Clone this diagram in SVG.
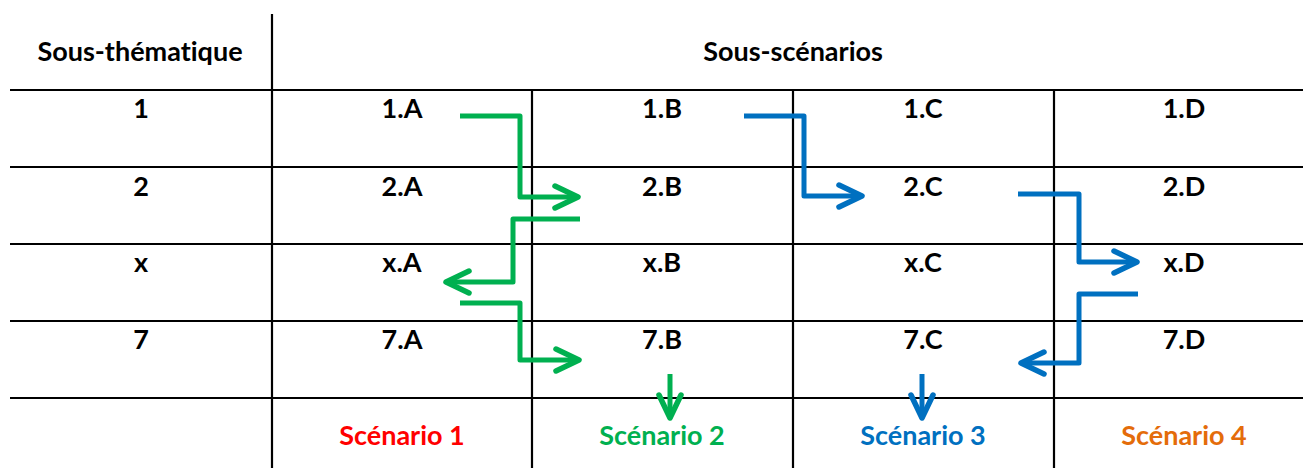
<svg xmlns="http://www.w3.org/2000/svg" width="1303" height="468" viewBox="0 0 1303 468">
<defs>
<style>
.grid line{stroke:#000;stroke-width:2.2}
text{font-family:Lato,"Open Sans","Liberation Sans",sans-serif;font-weight:bold;font-size:27px;text-anchor:middle;fill:#000;font-variant-ligatures:none;font-feature-settings:"liga" 0}
.g{stroke:#00B050;stroke-width:5;fill:none;stroke-linejoin:round}
.b{stroke:#0070C0;stroke-width:5;fill:none;stroke-linejoin:round}
</style>
<marker id="ag" markerUnits="userSpaceOnUse" markerWidth="40" markerHeight="40" refX="0" refY="0" viewBox="-30 -20 40 40" orient="auto" overflow="visible">
<path d="M-23,-11 L0,0 L-23,11" fill="none" stroke="#00B050" stroke-width="5.5" stroke-linecap="round" stroke-linejoin="round"/>
</marker>
<marker id="ab" markerUnits="userSpaceOnUse" markerWidth="40" markerHeight="40" refX="0" refY="0" viewBox="-30 -20 40 40" orient="auto" overflow="visible">
<path d="M-23,-11 L0,0 L-23,11" fill="none" stroke="#0070C0" stroke-width="5.5" stroke-linecap="round" stroke-linejoin="round"/>
</marker>
</defs>
<rect width="1303" height="468" fill="#fff"/>
<g class="grid" id="grid">
<line x1="272" y1="14" x2="272" y2="468"/>
<line x1="532" y1="90" x2="532" y2="468"/>
<line x1="793" y1="90" x2="793" y2="468"/>
<line x1="1054" y1="90" x2="1054" y2="468"/>
<line x1="10" y1="90" x2="1303" y2="90"/>
<line x1="10" y1="167" x2="1303" y2="167"/>
<line x1="10" y1="244" x2="1303" y2="244"/>
<line x1="10" y1="321" x2="1303" y2="321"/>
<line x1="10" y1="398" x2="1303" y2="398"/>
</g>
<g id="header-theme"><text x="140" y="61">Sous-thématique</text></g>
<g id="header-scen"><text x="793" y="61">Sous-scénarios</text></g>
<g id="row1"><text x="141" y="118">1</text></g>
<g id="row2"><text x="141" y="196">2</text></g>
<g id="rowx"><text x="141" y="272">x</text></g>
<g id="row7"><text x="141" y="349">7</text></g>
<g id="n1A"><text x="402" y="118">1.A</text></g>
<g id="n1B"><text x="662" y="118">1.B</text></g>
<g id="n1C"><text x="923" y="118">1.C</text></g>
<g id="n1D"><text x="1184" y="118">1.D</text></g>
<g id="n2A"><text x="402" y="196">2.A</text></g>
<g id="n2B"><text x="662" y="196">2.B</text></g>
<g id="n2C"><text x="923" y="196">2.C</text></g>
<g id="n2D"><text x="1184" y="196">2.D</text></g>
<g id="nxA"><text x="402" y="272">x.A</text></g>
<g id="nxB"><text x="662" y="272">x.B</text></g>
<g id="nxC"><text x="923" y="272">x.C</text></g>
<g id="nxD"><text x="1184" y="272">x.D</text></g>
<g id="n7A"><text x="402" y="349">7.A</text></g>
<g id="n7B"><text x="662" y="349">7.B</text></g>
<g id="n7C"><text x="923" y="349">7.C</text></g>
<g id="n7D"><text x="1184" y="349">7.D</text></g>
<g id="s1"><text x="402" y="445" style="fill:#FF0000">Scénario 1</text></g>
<g id="s2"><text x="662" y="445" style="fill:#00B050">Scénario 2</text></g>
<g id="s3"><text x="923" y="445" style="fill:#0070C0">Scénario 3</text></g>
<g id="s4"><text x="1184" y="445" style="fill:#E46C0A">Scénario 4</text></g>
<g id="connectors">
<path class="g" d="M460,116 H520 V197 H578" marker-end="url(#ag)"/>
<path class="g" d="M580,219 H513 V282 H446" marker-end="url(#ag)"/>
<path class="g" d="M460,303 H520 V360 H579" marker-end="url(#ag)"/>
<path class="g" d="M670,374 V418" marker-end="url(#ag)"/>
<path class="b" d="M744,116 H804 V196 H862" marker-end="url(#ab)"/>
<path class="b" d="M1018,194 H1079 V262 H1137" marker-end="url(#ab)"/>
<path class="b" d="M1138,294 H1079 V363 H1021" marker-end="url(#ab)"/>
<path class="b" d="M922,374 V418" marker-end="url(#ab)"/>
</g>
</svg>
